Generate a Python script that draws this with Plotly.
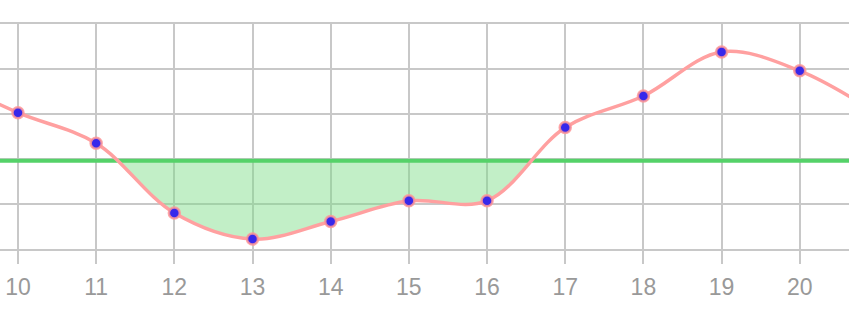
import numpy as np
import plotly.graph_objects as go

# Data
x_vals = [9, 10, 11, 12, 13, 14, 15, 16, 17, 18, 19, 20, 21]
y_vals = [38.5, 30.3, 23.5, 8.0, 2.2, 6.1, 10.7, 10.7, 27.0, 34.0, 43.8, 39.6, 30.0]
threshold = 19.6
x_ticks = [10, 11, 12, 13, 14, 15, 16, 17, 18, 19, 20]

# Fill region below threshold derived from the series (Catmull-Rom sampled)
xs = np.array(x_vals, dtype=float)
ys = np.array(y_vals, dtype=float)
fx, fy = [], []
for i in range(1, len(xs) - 2):
    p0, p1, p2, p3 = ys[i - 1], ys[i], ys[i + 1], ys[i + 2]
    for t in np.linspace(0, 1, 30, endpoint=False):
        v = 0.5 * ((2 * p1) + (-p0 + p2) * t + (2 * p0 - 5 * p1 + 4 * p2 - p3) * t ** 2
                   + (-p0 + 3 * p1 - 3 * p2 + p3) * t ** 3)
        fx.append(xs[i] + t)
        fy.append(min(v, threshold))
fx = np.array(fx)
fy = np.array(fy)

fig = go.Figure()
fig.add_trace(go.Scatter(x=fx, y=[threshold] * len(fx), mode="lines",
                         line=dict(width=0), hoverinfo="skip", showlegend=False))
fig.add_trace(go.Scatter(x=fx, y=fy, mode="lines", fill="tonexty",
                         fillcolor="rgba(120,220,130,0.45)", line=dict(width=0),
                         hoverinfo="skip", showlegend=False))
fig.add_trace(go.Scatter(x=[x_vals[0], x_vals[-1]], y=[threshold, threshold], mode="lines",
                         line=dict(color="rgb(85,210,105)", width=4), showlegend=False))
fig.add_trace(go.Scatter(x=x_vals, y=y_vals, mode="lines+markers",
                         line=dict(color="rgb(255,160,160)", width=3.5, shape="spline"),
                         marker=dict(color="rgb(55,40,235)", size=11,
                                     line=dict(color="rgba(255,150,150,0.85)", width=2.5)),
                         showlegend=False))

fig.update_layout(
    width=849, height=324,
    margin=dict(l=0, r=0, t=24, b=75),
    paper_bgcolor="white", plot_bgcolor="white",
    xaxis=dict(range=[9.77, 20.63], tickvals=x_ticks, ticktext=[str(v) for v in x_ticks],
               showgrid=True, gridcolor="#c8c8c8", gridwidth=2,
               ticks="outside", ticklen=13, tickwidth=2, tickcolor="#c8c8c8",
               ticklabelstandoff=3,
               tickfont=dict(family="Liberation Sans, Arial, sans-serif", size=23, color="#999999"),
               zeroline=False, showline=True, mirror=True, linecolor="#c8c8c8", linewidth=2),
    yaxis=dict(range=[0, 50], dtick=10, showgrid=True, gridcolor="#c8c8c8", gridwidth=2,
               showticklabels=False, zeroline=False, showline=False),
)

fig.write_html("out.html")
